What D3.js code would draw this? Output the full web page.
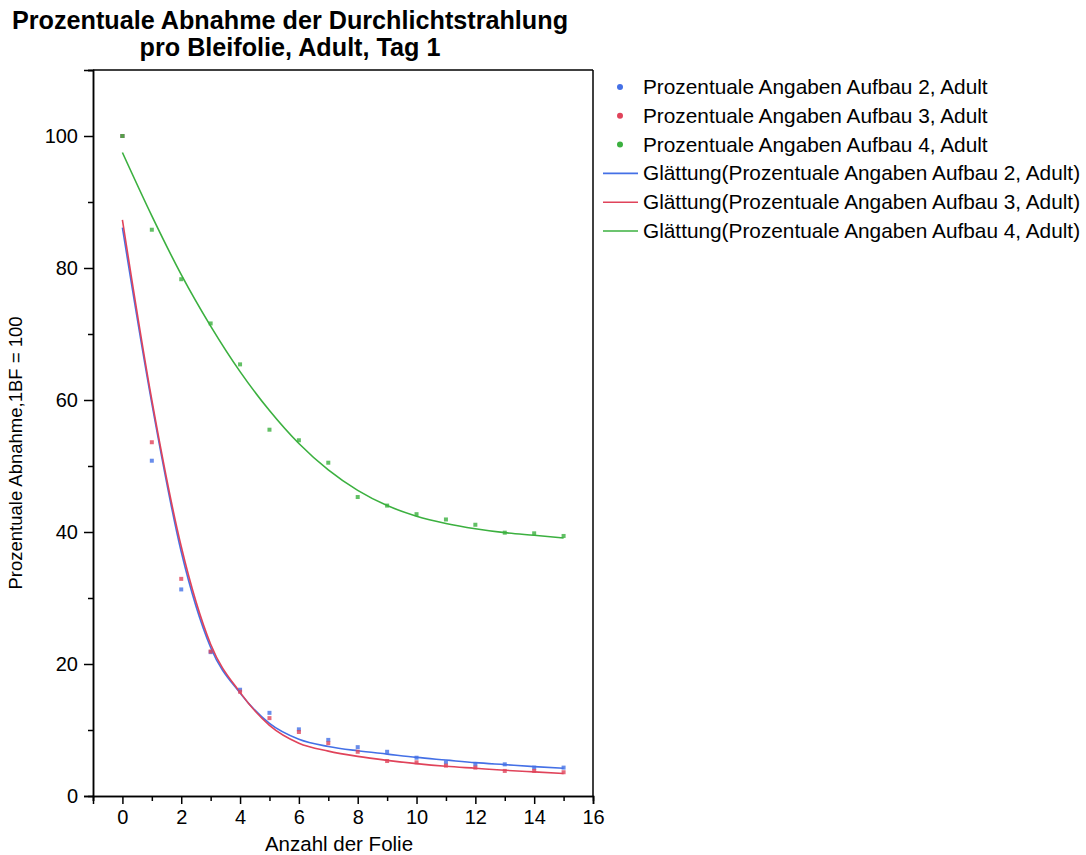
<!DOCTYPE html>
<html><head><meta charset="utf-8">
<script src="https://cdn.jsdelivr.net/npm/d3@7"></script>
<style>body{margin:0;background:#fff}svg{display:block;font-family:"Liberation Sans",Arial,sans-serif}</style>
</head><body><svg id="c" width="1086" height="855"></svg>
<script>
const folien = [0,1,2,3,4,5,6,7,8,9,10,11,12,13,14,15];
const aufbau2 = [100, 50.8, 31.3, 21.8, 16.1, 12.6, 10.1, 8.5, 7.4, 6.7, 5.8, 5.1, 4.8, 4.8, 4.3, 4.3];
const aufbau3 = [100, 53.6, 32.9, 21.9, 15.8, 11.8, 9.7, 8.0, 6.7, 5.3, 5.1, 4.6, 4.3, 3.8, 3.8, 3.6];
const aufbau4 = [100, 85.8, 78.3, 71.6, 65.4, 55.5, 53.9, 50.5, 45.3, 44.0, 42.7, 41.9, 41.1, 39.9, 39.8, 39.4];
const glatt2 = [86.1, 59.5, 37.0, 22.5, 15.6, 11.0, 8.6, 7.5, 6.85, 6.35, 5.85, 5.45, 5.05, 4.75, 4.45, 4.2];
const glatt3 = [87.3, 60.0, 37.8, 23.0, 15.7, 10.7, 8.0, 6.8, 6.0, 5.4, 4.9, 4.5, 4.2, 3.9, 3.65, 3.4];
const glatt4 = [97.5, 87.9, 79.0, 71.2, 64.3, 58.4, 53.4, 49.4, 46.3, 44.0, 42.4, 41.3, 40.5, 39.9, 39.5, 39.1];
const xTicks = [0,2,4,6,8,10,12,14,16];
const yTicks = [0,20,40,60,80,100];
const legendLabels = ["Prozentuale Angaben Aufbau 2, Adult","Prozentuale Angaben Aufbau 3, Adult","Prozentuale Angaben Aufbau 4, Adult",
  "Glättung(Prozentuale Angaben Aufbau 2, Adult)","Glättung(Prozentuale Angaben Aufbau 3, Adult)","Glättung(Prozentuale Angaben Aufbau 4, Adult)"];
const colors = ["#4470e6","#e0435a","#3bb03f"];

const svg = d3.select("#c");
const L=93,R=593,T=70,B=796;
const x = d3.scaleLinear().domain([-1,16]).range([L,R]);
const y = d3.scaleLinear().domain([0,110]).range([B,T]);

// frame
svg.append("line").attr("x1",L).attr("x2",R).attr("y1",T).attr("y2",T).attr("stroke","#000").attr("stroke-width",1.5);
svg.append("line").attr("x1",R).attr("x2",R).attr("y1",T).attr("y2",B).attr("stroke","#000").attr("stroke-width",1.5);

const xa = svg.append("g").attr("transform",`translate(0,${B})`)
  .call(d3.axisBottom(x).tickValues(xTicks).tickSize(8).tickPadding(6).tickFormat(d3.format("d")));
const xm = svg.append("g").attr("transform",`translate(0,${B})`)
  .call(d3.axisBottom(x).tickValues(d3.range(-1,16,2)).tickSize(5).tickFormat(""));
const ya = svg.append("g").attr("transform",`translate(${L},0)`)
  .call(d3.axisLeft(y).tickValues(yTicks).tickSize(9).tickPadding(6).tickFormat(d3.format("d")));
const ym = svg.append("g").attr("transform",`translate(${L},0)`)
  .call(d3.axisLeft(y).tickValues([10,30,50,70,90,110]).tickSize(5).tickFormat(""));
[xa,xm,ya,ym].forEach(g=>{
  g.select(".domain").attr("stroke","#000").attr("stroke-width",1.5);
  g.selectAll(".tick line").attr("stroke","#000").attr("stroke-width",1.5);
  g.selectAll("text").attr("font-size",20).attr("fill","#000").attr("font-family","Liberation Sans, Arial, sans-serif");
});

// curves
const series = [aufbau2,aufbau3,aufbau4];
const smooth = [glatt2,glatt3,glatt4];
const line = d3.line().x((d,i)=>x(folien[i])).y(d=>y(d)).curve(d3.curveMonotoneX);
smooth.forEach((s,k)=>{
  svg.append("path").attr("d",line(s)).attr("fill","none").attr("stroke",colors[k]).attr("stroke-width",1.6);
});
series.forEach((s,k)=>{
  svg.append("g").selectAll("rect").data(s).join("rect")
    .attr("x",(d,i)=>x(folien[i])-2).attr("y",d=>y(d)-2).attr("width",4).attr("height",4)
    .attr("fill",colors[k]).attr("opacity",0.8);
});

// title
svg.append("text").attr("x",290).attr("y",29).attr("text-anchor","middle").attr("font-size",25.2).attr("font-weight","bold").text("Prozentuale Abnahme der Durchlichtstrahlung");
svg.append("text").attr("x",290).attr("y",56).attr("text-anchor","middle").attr("font-size",25.2).attr("font-weight","bold").text("pro Bleifolie, Adult, Tag 1");

// axis labels
svg.append("text").attr("x",339).attr("y",851).attr("text-anchor","middle").attr("font-size",20.5).text("Anzahl der Folie");
svg.append("text").attr("transform",`translate(22,${(T+B)/2+20}) rotate(-90)`).attr("text-anchor","middle").attr("font-size",18.5).text("Prozentuale Abnahme,1BF = 100");

// legend
const lg = svg.append("g");
legendLabels.forEach((t,i)=>{
  const yy = 87 + i*28.8;
  const c = colors[i%3];
  if(i<3) lg.append("circle").attr("cx",620).attr("cy",yy).attr("r",3).attr("fill",c);
  else lg.append("line").attr("x1",603).attr("x2",638).attr("y1",yy).attr("y2",yy).attr("stroke",c).attr("stroke-width",1.6);
  lg.append("text").attr("x",643).attr("y",yy+7).attr("font-size",20.8).text(t);
});
</script></body></html>
